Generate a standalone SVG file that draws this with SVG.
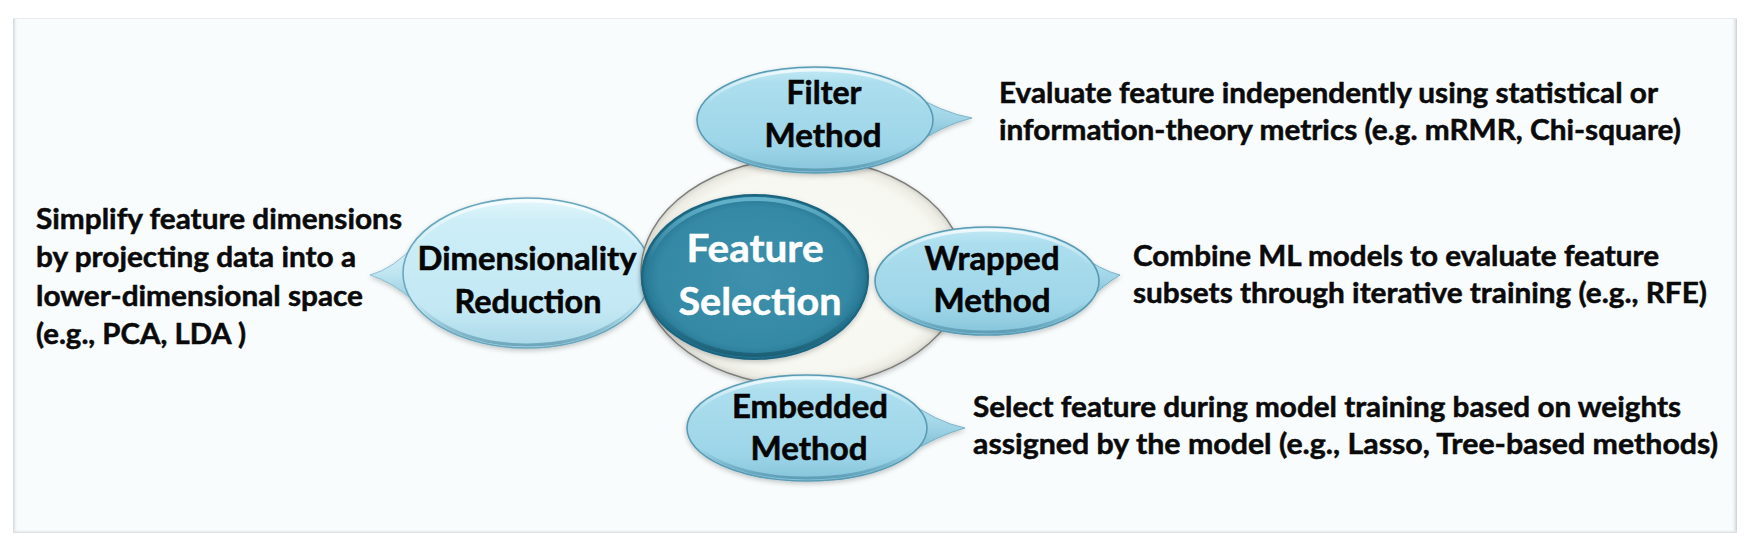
<svg xmlns="http://www.w3.org/2000/svg" width="1755" height="548" viewBox="0 0 1755 548">
<defs>
  <style>
    .dt { font-family: Lato, "Open Sans", sans-serif; font-weight: 700; font-size: 28.3px; fill: #0a0a0a; stroke: #0a0a0a; stroke-width: 0.5px; }
    .bt { font-family: Lato, "Open Sans", sans-serif; font-weight: 700; font-size: 31.5px; fill: #050505; stroke: #050505; stroke-width: 0.55px; text-anchor: middle; }
    .ct { font-family: Lato, "Open Sans", sans-serif; font-weight: 700; font-size: 38.7px; fill: #ffffff; stroke: #ffffff; stroke-width: 0.5px; text-anchor: middle; }
    .bub { fill: url(#gBub); stroke: #5a9bb3; stroke-width: 1.6; }
    .bubdr { fill: url(#gBubDR); stroke: #6aa7bd; stroke-width: 1.6; }
    .tail { fill: url(#gTail); stroke: #6aa6bc; stroke-width: 0.8; }
    .taildr { fill: url(#gTailDR); stroke: #7ab2c6; stroke-width: 0.8; }
    .rim { fill: none; stroke: url(#gRim); stroke-width: 3; }
  </style>
  <linearGradient id="gPanelL" x1="0" y1="0" x2="1" y2="0">
    <stop offset="0" stop-color="#cdd2d5"/><stop offset="1" stop-color="#f8fcfd" stop-opacity="0"/>
  </linearGradient>
  <linearGradient id="gPanelR" x1="0" y1="0" x2="1" y2="0">
    <stop offset="0" stop-color="#f8fcfd" stop-opacity="0"/><stop offset="1" stop-color="#c9ced1"/>
  </linearGradient>
  <linearGradient id="gPanelB" x1="0" y1="0" x2="0" y2="1">
    <stop offset="0" stop-color="#f8fcfd" stop-opacity="0"/><stop offset="1" stop-color="#d6dadc"/>
  </linearGradient>
  <linearGradient id="gBub" x1="0" y1="0" x2="0" y2="1">
    <stop offset="0" stop-color="#c4eaf5"/>
    <stop offset="0.15" stop-color="#acdeee"/>
    <stop offset="0.75" stop-color="#9dd5e8"/>
    <stop offset="1" stop-color="#86c4da"/>
  </linearGradient>
  <linearGradient id="gBubDR" x1="0" y1="0" x2="0" y2="1">
    <stop offset="0" stop-color="#e4f7fc"/>
    <stop offset="0.15" stop-color="#cdeef7"/>
    <stop offset="0.75" stop-color="#c3e8f4"/>
    <stop offset="1" stop-color="#a9d7e7"/>
  </linearGradient>
  <linearGradient id="gTail" x1="0" y1="0" x2="0" y2="1">
    <stop offset="0" stop-color="#b8e4f2"/>
    <stop offset="0.5" stop-color="#9fd4e6"/>
    <stop offset="1" stop-color="#74b6cd"/>
  </linearGradient>
  <linearGradient id="gTailDR" x1="0" y1="0" x2="0" y2="1">
    <stop offset="0" stop-color="#d8f1f8"/>
    <stop offset="0.5" stop-color="#bfe5f1"/>
    <stop offset="1" stop-color="#94c9dc"/>
  </linearGradient>
  <linearGradient id="gRim" x1="0" y1="0" x2="0" y2="1">
    <stop offset="0" stop-color="#ffffff" stop-opacity="0.75"/>
    <stop offset="0.35" stop-color="#ffffff" stop-opacity="0"/>
    <stop offset="0.7" stop-color="#3c7f99" stop-opacity="0"/>
    <stop offset="1" stop-color="#3c7f99" stop-opacity="0.55"/>
  </linearGradient>
  <radialGradient id="gRing" cx="0.5" cy="0.5" r="0.5">
    <stop offset="0" stop-color="#fcfcf9"/>
    <stop offset="0.88" stop-color="#f7f7f1"/>
    <stop offset="0.96" stop-color="#ececE4"/>
    <stop offset="1" stop-color="#d6d6ce"/>
  </radialGradient>
  <radialGradient id="gCore" cx="0.5" cy="0.5" r="0.5">
    <stop offset="0" stop-color="#3d90ac"/>
    <stop offset="0.85" stop-color="#3589a5"/>
    <stop offset="0.95" stop-color="#2b7d99"/>
    <stop offset="1" stop-color="#21708b"/>
  </radialGradient>
  <linearGradient id="gCoreRim" x1="0" y1="0" x2="0" y2="1">
    <stop offset="0" stop-color="#6bb8d0" stop-opacity="0.9"/>
    <stop offset="0.4" stop-color="#6bb8d0" stop-opacity="0"/>
    <stop offset="0.7" stop-color="#164f63" stop-opacity="0"/>
    <stop offset="1" stop-color="#164f63" stop-opacity="0.6"/>
  </linearGradient>
  <filter id="sh" x="-10%" y="-20%" width="120%" height="150%">
    <feDropShadow dx="0" dy="2" stdDeviation="2.5" flood-color="#000000" flood-opacity="0.22"/>
  </filter>
</defs>

<rect x="0" y="0" width="1755" height="548" fill="#ffffff"/>
<g id="panel">
  <rect x="13" y="18" width="1724" height="515" fill="#f8fcfd"/>
  <rect x="13" y="18" width="5" height="515" fill="url(#gPanelL)"/>
  <rect x="1731" y="18" width="6" height="515" fill="url(#gPanelR)"/>
  <rect x="13" y="529" width="1724" height="4" fill="url(#gPanelB)"/>
  <line x1="13" y1="18.5" x2="1737" y2="18.5" stroke="#e6ecee" stroke-width="1"/>
</g>

<g id="connectors"></g>

<g id="node-dimensionality-reduction">
  <g filter="url(#sh)">
    <path class="taildr" d="M416,244 Q393,269 370,275 Q393,282 416,303 Z"/>
    <ellipse class="bubdr" cx="527" cy="273" rx="124" ry="75"/>
    <ellipse class="rim" cx="527" cy="273" rx="121" ry="72"/>
  </g>
  <text class="bt" x="527" y="270" textLength="219" lengthAdjust="spacingAndGlyphs">Dimensionality</text>
  <text class="bt" x="528" y="313" textLength="147" lengthAdjust="spacingAndGlyphs">Reduction</text>
</g>

<g id="node-ring">
  <ellipse cx="803" cy="272" rx="162" ry="114" fill="url(#gRing)" stroke="#7e7e7a" stroke-width="1.4" filter="url(#sh)"/>
</g>

<g id="node-feature-selection">
  <g filter="url(#sh)">
    <ellipse cx="755" cy="277" rx="113" ry="82" fill="url(#gCore)" stroke="#1d6580" stroke-width="2.2"/>
    <ellipse cx="755" cy="277" rx="109" ry="78" fill="none" stroke="url(#gCoreRim)" stroke-width="4"/>
  </g>
  <text class="ct" x="755" y="262" textLength="137" lengthAdjust="spacingAndGlyphs">Feature</text>
  <text class="ct" x="760" y="315" textLength="163" lengthAdjust="spacingAndGlyphs">Selection</text>
</g>

<g id="node-filter-method">
  <g filter="url(#sh)">
    <path class="tail" d="M905,90 Q942,113 972,118 Q942,125 910,148 Z"/>
    <ellipse class="bub" cx="815" cy="120" rx="118" ry="53"/>
    <ellipse class="rim" cx="815" cy="120" rx="115" ry="50"/>
  </g>
  <text class="bt" x="824" y="104" textLength="75" lengthAdjust="spacingAndGlyphs">Filter</text>
  <text class="bt" x="823" y="147" textLength="117" lengthAdjust="spacingAndGlyphs">Method</text>
</g>

<g id="node-wrapped-method">
  <g filter="url(#sh)">
    <path class="tail" d="M1078,253 Q1100,270 1120,275 Q1101,286 1085,305 Z"/>
    <ellipse class="bub" cx="987" cy="281" rx="112" ry="54"/>
    <ellipse class="rim" cx="987" cy="281" rx="109" ry="51"/>
  </g>
  <text class="bt" x="992" y="270" textLength="135" lengthAdjust="spacingAndGlyphs">Wrapped</text>
  <text class="bt" x="992" y="312" textLength="117" lengthAdjust="spacingAndGlyphs">Method</text>
</g>

<g id="node-embedded-method">
  <g filter="url(#sh)">
    <path class="tail" d="M905,399 Q936,422 965,428 Q936,436 905,456 Z"/>
    <ellipse class="bub" cx="807" cy="428" rx="120" ry="53"/>
    <ellipse class="rim" cx="807" cy="428" rx="117" ry="50"/>
  </g>
  <text class="bt" x="810" y="418" textLength="156" lengthAdjust="spacingAndGlyphs">Embedded</text>
  <text class="bt" x="809" y="460" textLength="117" lengthAdjust="spacingAndGlyphs">Method</text>
</g>

<g id="desc-dimensionality">
  <text class="dt" x="36" y="229" textLength="366" lengthAdjust="spacingAndGlyphs">Simplify feature dimensions</text>
  <text class="dt" x="36" y="267" textLength="320" lengthAdjust="spacingAndGlyphs">by projecting data into a</text>
  <text class="dt" x="36" y="306" textLength="327" lengthAdjust="spacingAndGlyphs">lower-dimensional space</text>
  <text class="dt" x="36" y="344" textLength="210" lengthAdjust="spacingAndGlyphs">(e.g., PCA, LDA )</text>
</g>

<g id="desc-filter">
  <text class="dt" x="999" y="103" textLength="659" lengthAdjust="spacingAndGlyphs">Evaluate feature independently using statistical or</text>
  <text class="dt" x="999" y="140" textLength="682" lengthAdjust="spacingAndGlyphs">information-theory metrics (e.g. mRMR, Chi-square)</text>
</g>

<g id="desc-wrapped">
  <text class="dt" x="1133" y="266" textLength="526" lengthAdjust="spacingAndGlyphs">Combine ML models to evaluate feature</text>
  <text class="dt" x="1133" y="303" textLength="574" lengthAdjust="spacingAndGlyphs">subsets through iterative training (e.g., RFE)</text>
</g>

<g id="desc-embedded">
  <text class="dt" x="973" y="417" textLength="708" lengthAdjust="spacingAndGlyphs">Select feature during model training based on weights</text>
  <text class="dt" x="973" y="454" textLength="745" lengthAdjust="spacingAndGlyphs">assigned by the model (e.g., Lasso, Tree-based methods)</text>
</g>
</svg>
